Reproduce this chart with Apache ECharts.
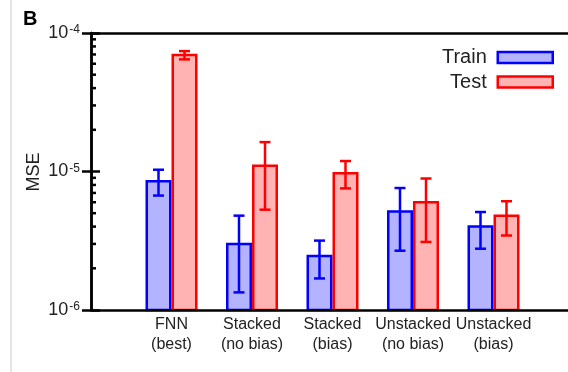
<!DOCTYPE html>
<html>
<head>
<meta charset="utf-8">
<script src="https://cdn.jsdelivr.net/npm/echarts@6/dist/echarts.min.js"></script>
<style>
html,body{margin:0;padding:0;background:#fff;}
#chart{width:568px;height:372px;}
</style>
</head>
<body>
<div id="chart"></div>
<script>
// ---- data ----
var categories = ['FNN\n(best)', 'Stacked\n(no bias)', 'Stacked\n(bias)', 'Unstacked\n(no bias)', 'Unstacked\n(bias)'];
var trainMSE  = [8.5e-6, 3.0e-6, 2.45e-6, 5.15e-6, 4.0e-6];
var trainLow  = [6.7e-6, 1.34e-6, 1.69e-6, 2.68e-6, 2.77e-6];
var trainHigh = [1.03e-5, 4.8e-6, 3.17e-6, 7.6e-6, 5.1e-6];
var testMSE   = [6.95e-5, 1.1e-5, 9.7e-6, 6.0e-6, 4.8e-6];
var testLow   = [6.45e-5, 5.3e-6, 7.55e-6, 3.1e-6, 3.45e-6];
var testHigh  = [7.4e-5, 1.63e-5, 1.19e-5, 8.9e-6, 6.1e-6];
var yTickExponents = [-6, -5, -4];
var seriesNames = ['Train', 'Test'];

var FONT = 'Liberation Sans, Arial, Helvetica, sans-serif';
var yMin = Math.pow(10, yTickExponents[0]);
var yMax = Math.pow(10, yTickExponents[yTickExponents.length - 1]);

// minor tick values (2..9 of each decade)
var minorTicks = [];
for (var e = yTickExponents[0]; e < yTickExponents[yTickExponents.length - 1]; e++) {
  for (var m = 2; m <= 9; m++) minorTicks.push([0, m * Math.pow(10, e)]);
}

function makeData(vals, lo, hi) {
  return vals.map(function (v, i) { return [i + 1, v, lo[i], hi[i]]; });
}

var styles = [
  { fill: '#b3b3ff', stroke: '#0000ff' },
  { fill: '#ffb3b3', stroke: '#ff0000' }
];

function barRenderer(side) {
  return function (params, api) {
    var x = api.value(0), v = api.value(1), lo = api.value(2), hi = api.value(3);
    var base = api.coord([x, yMin]);
    var top = api.coord([x, v]);
    var step = api.size([1, 0])[0];
    var bw = step * 0.323;
    var c = base[0];
    var bwBorder = 2.5;
    var x0 = side === 0 ? c - bw + bwBorder / 2 : c + bwBorder / 2;
    var w = bw - bwBorder;
    var cx = side === 0 ? c - bw / 2 : c + bw / 2;
    var pLo = api.coord([x, lo]), pHi = api.coord([x, hi]);
    var cap = 5.5;
    var st = styles[side];
    return {
      type: 'group',
      children: [
        { type: 'rect', shape: { x: x0, y: top[1], width: w, height: base[1] - top[1] },
          style: { fill: st.fill, stroke: st.stroke, lineWidth: bwBorder } },
        { type: 'line', shape: { x1: cx, y1: pLo[1], x2: cx, y2: pHi[1] },
          style: { stroke: st.stroke, lineWidth: 2.5 } },
        { type: 'line', shape: { x1: cx - cap, y1: pLo[1], x2: cx + cap, y2: pLo[1] },
          style: { stroke: st.stroke, lineWidth: 2.5 } },
        { type: 'line', shape: { x1: cx - cap, y1: pHi[1], x2: cx + cap, y2: pHi[1] },
          style: { stroke: st.stroke, lineWidth: 2.5 } }
      ]
    };
  };
}

var chart = echarts.init(document.getElementById('chart'), null, { renderer: 'canvas' });

var yLabelRich = {
  a: { fontSize: 18, fontFamily: FONT, color: '#222', lineHeight: 18 },
  b: { fontSize: 12, fontFamily: FONT, color: '#222', verticalAlign: 'top', lineHeight: 12, padding: [0, 0, 0, 1] }
};

var option = {
  animation: false,
  backgroundColor: '#fff',
  grid: { left: 91, top: 33, width: 483, height: 277, containLabel: false, outerBoundsMode: 'none' },
  xAxis: [
    {
      type: 'value', min: 0, max: categories.length + 1, interval: 1, position: 'bottom',
      axisLine: { show: true, lineStyle: { color: '#000', width: 2.5 } },
      axisTick: { show: false },
      splitLine: { show: false },
      axisLabel: {
        margin: 5, fontSize: 16, fontFamily: FONT, color: '#222', lineHeight: 20,
        showMinLabel: true, showMaxLabel: true,
        formatter: function (v) { return (v >= 1 && v <= categories.length) ? categories[v - 1] : ''; }
      },
      z: 5
    },
    {
      type: 'value', min: 0, max: categories.length + 1, position: 'top',
      axisLine: { show: true, lineStyle: { color: '#000', width: 2.5 } },
      axisTick: { show: false }, axisLabel: { show: false }, splitLine: { show: false },
      z: 5
    }
  ],
  yAxis: [
    {
      type: 'log', logBase: 10, min: yMin, max: yMax, position: 'left',
      axisLine: { show: true, lineStyle: { color: '#000', width: 2.5 } },
      axisTick: { show: true, inside: true, length: 9, lineStyle: { color: '#000', width: 2.5 } },
      splitLine: { show: false },
      axisLabel: {
        margin: 11,
        formatter: function (v) { return '{a|10}{b|' + Math.round(Math.log10(v)) + '}'; },
        rich: yLabelRich
      },
      z: 5
    },
    {
      type: 'log', logBase: 10, min: yMin, max: yMax, position: 'right',
      axisLine: { show: true, lineStyle: { color: '#000', width: 2.5 } },
      axisTick: { show: true, inside: true, length: 9, lineStyle: { color: '#000', width: 2.5 } },
      splitLine: { show: false }, axisLabel: { show: false },
      z: 5
    }
  ],
  legend: {
    orient: 'vertical', align: 'right', right: 9, top: 40.5, itemGap: 0.5,
    itemWidth: 55, itemHeight: 11, icon: 'rect',
    textStyle: { fontSize: 20, fontFamily: FONT, color: '#222', lineHeight: 24, padding: [0, 6, 0, 0] },
    data: [
      { name: seriesNames[0], itemStyle: { color: styles[0].fill, borderColor: styles[0].stroke, borderWidth: 2.5 } },
      { name: seriesNames[1], itemStyle: { color: styles[1].fill, borderColor: styles[1].stroke, borderWidth: 2.5 } }
    ]
  },
  series: [
    {
      name: seriesNames[0], type: 'custom', renderItem: barRenderer(0), z: 2,
      itemStyle: { color: styles[0].fill, borderColor: styles[0].stroke },
      encode: { x: 0, y: [1, 2, 3] },
      data: makeData(trainMSE, trainLow, trainHigh)
    },
    {
      name: seriesNames[1], type: 'custom', renderItem: barRenderer(1), z: 2,
      itemStyle: { color: styles[1].fill, borderColor: styles[1].stroke },
      encode: { x: 0, y: [1, 2, 3] },
      data: makeData(testMSE, testLow, testHigh)
    },
    {
      name: 'minorTicks', type: 'custom', z: 6, silent: true,
      renderItem: function (params, api) {
        var v = api.value(1);
        var pl = api.coord([0, v]);
        var pr = api.coord([categories.length + 1, v]);
        return {
          type: 'group',
          children: [
            { type: 'line', shape: { x1: pl[0], y1: pl[1], x2: pl[0] + 5, y2: pl[1] }, style: { stroke: '#000', lineWidth: 2.5 } },
            { type: 'line', shape: { x1: pr[0], y1: pr[1], x2: pr[0] - 5, y2: pr[1] }, style: { stroke: '#000', lineWidth: 2.5 } }
          ]
        };
      },
      data: minorTicks
    }
  ],
  graphic: [
    { type: 'line', shape: { x1: 11, y1: 0, x2: 11, y2: 372 }, style: { stroke: '#cccccc', lineWidth: 1 }, silent: true },
    { type: 'text', x: 23, y: 9, style: { text: 'B', fontSize: 20, fontWeight: 'bold', fontFamily: FONT, fill: '#000', align: 'left', verticalAlign: 'top' } },
    { type: 'text', x: 34.5, y: 172, rotation: Math.PI / 2, style: { text: 'MSE', fontSize: 18, fontFamily: FONT, fill: '#222', align: 'center', verticalAlign: 'middle' } }
  ]
};
chart.setOption(option);
</script>
</body>
</html>
